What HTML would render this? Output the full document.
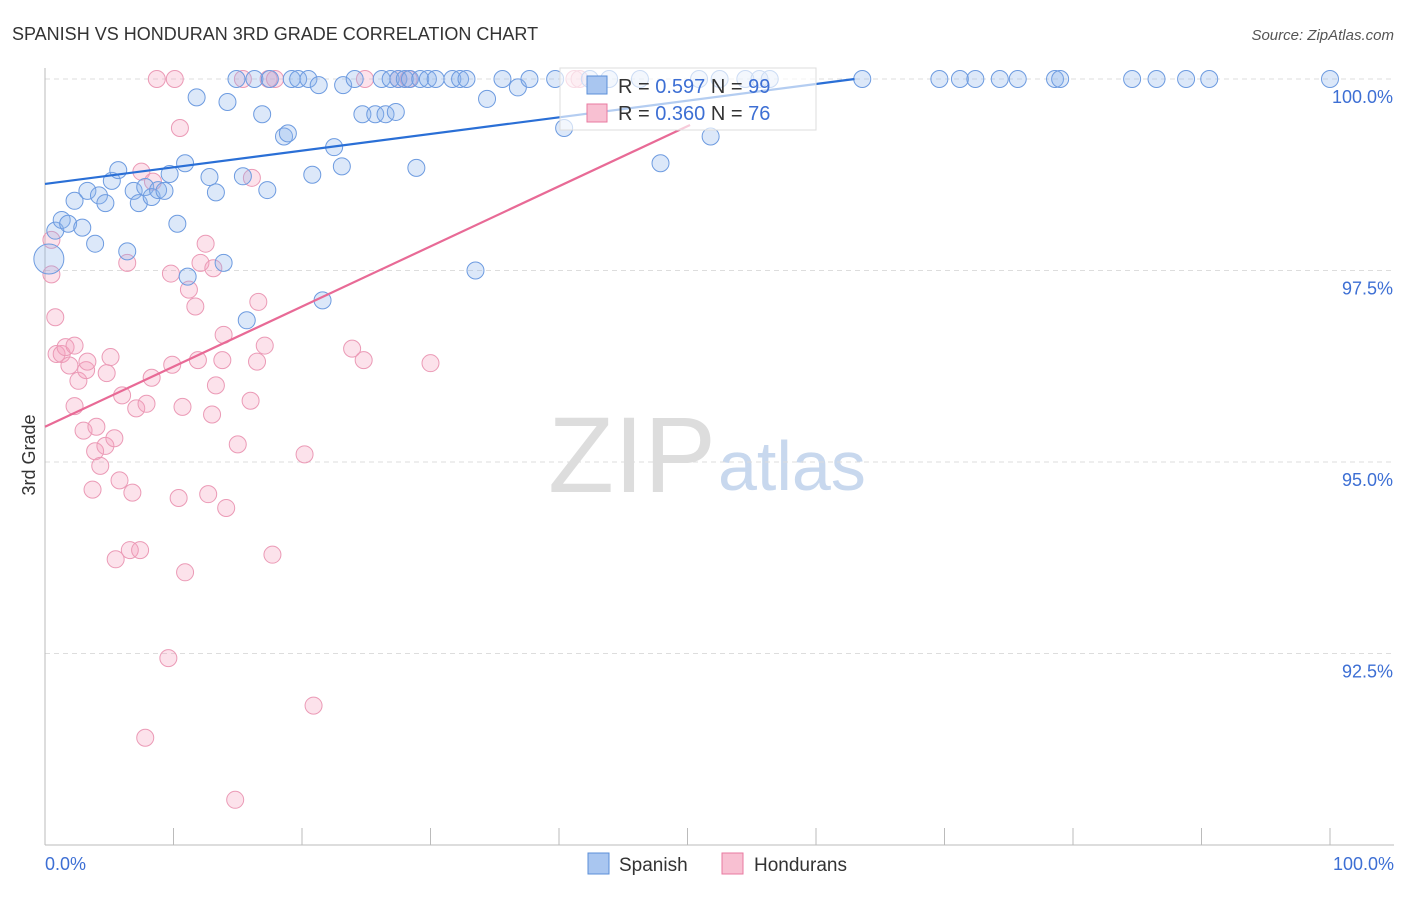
<!DOCTYPE html>
<html><head><meta charset="utf-8"><style>
body{margin:0;background:#fff;font-family:"Liberation Sans",sans-serif}
svg text{font-family:"Liberation Sans",sans-serif}
</style></head><body>
<svg id="c" width="1406" height="892">
<text x="12" y="40" font-size="18" fill="#333">SPANISH VS HONDURAN 3RD GRADE CORRELATION CHART</text>
<text x="1394" y="40" font-size="15" fill="#555" font-style="italic" text-anchor="end">Source: ZipAtlas.com</text>
<text x="716" y="492" font-size="108" fill="#ddd" text-anchor="end" font-family="Liberation Serif">ZIP</text>
<text x="718" y="490" font-size="70" fill="#c8d8ee">atlas</text>
<g id="grid"></g><g id="axes"></g><g id="pts"></g><g id="lines"></g>
<text x="35" y="455" font-size="18" fill="#333" text-anchor="middle" transform="rotate(-90 35 455)">3rd Grade</text>
<text x="45" y="870" font-size="18" fill="#3d6fd4">0.0%</text>
<text x="1394" y="870" font-size="18" fill="#3d6fd4" text-anchor="end">100.0%</text>
<g>
<rect x="560" y="68" width="256" height="62" fill="rgba(255,255,255,0.65)" stroke="#ddd"/>
<rect x="587" y="76" width="20" height="18" fill="#a9c6f0" stroke="#5b8fd8"/>
<rect x="587" y="104" width="20" height="18" fill="#f8c0d2" stroke="#e87aa0"/>
<text x="618" y="93" font-size="20" fill="#333">R = <tspan fill="#3d6fd4">0.597</tspan>   N = <tspan fill="#3d6fd4">99</tspan></text>
<text x="618" y="120" font-size="20" fill="#333">R = <tspan fill="#3d6fd4">0.360</tspan>   N = <tspan fill="#3d6fd4">76</tspan></text>
</g>
<g>
<rect x="588" y="853" width="21" height="21" fill="#a9c6f0" stroke="#5b8fd8"/>
<text x="619" y="871" font-size="19" fill="#333">Spanish</text>
<rect x="722" y="853" width="21" height="21" fill="#f8c0d2" stroke="#e87aa0"/>
<text x="754" y="871" font-size="19" fill="#333">Hondurans</text>
</g>
</svg>
<script>
const yTicks=[100,97.5,95,92.5];
const yTickLabels=["100.0%","97.5%","95.0%","92.5%"];
const blueX=[0.8,1.3,1.8,2.3,2.9,3.3,3.9,4.2,4.7,5.2,5.7,6.4,6.9,7.3,7.8,8.3,8.8,9.3,9.7,10.3,10.9,11.1,11.8,12.8,13.3,13.9,14.2,15.4,15.7,16.9,17.3,18.6,18.9,20.8,21.6,22.5,23.1,24.7,25.7,26.5,27.3,28.9,33.5,34.4,36.8,40.4,47.9,51.8,
14.9,16.3,17.5,19.2,19.7,20.5,21.3,23.2,24.1,26.2,26.9,27.5,28.0,28.4,29.2,29.8,30.4,31.7,32.3,32.8,35.6,37.7,39.7,42.4,43.9,46.3,50.9,52.5,54.5,55.6,56.4,63.6,69.6,71.2,72.4,74.3,75.7,78.6,79.0,84.6,86.5,88.8,90.6,100.0,0.3];
const blueY=[98.02,98.16,98.11,98.41,98.06,98.54,97.85,98.48,98.38,98.67,98.81,97.75,98.54,98.38,98.59,98.46,98.55,98.54,98.76,98.11,98.90,97.42,99.76,98.72,98.52,97.6,99.70,98.73,96.85,99.54,98.55,99.25,99.29,98.75,97.11,99.11,98.86,99.54,99.54,99.54,99.57,98.84,97.5,99.74,99.89,99.36,98.9,99.25,
100,100,100,100,100,100,99.92,99.92,100,100,100,100,100,100,100,100,100,100,100,100,100,100,100,100,100,100,100,100,100,100,100,100,100,100,100,100,100,100,100,100,100,100,100,100,97.65];
const pinkX=[0.5,0.5,0.8,0.9,1.3,1.6,1.9,2.3,2.6,2.3,3.0,3.2,3.3,3.7,3.9,4.0,4.3,4.7,4.8,5.1,5.4,5.5,5.8,6.0,6.4,6.6,6.8,7.1,7.4,7.5,7.8,7.9,8.3,8.4,8.7,9.6,9.8,9.9,10.1,10.4,10.5,10.7,10.9,11.2,11.7,11.9,12.1,12.5,12.7,13.0,13.1,13.3,13.8,13.9,14.1,14.8,15.0,15.4,16.0,16.1,16.5,16.6,17.1,17.7,17.4,17.9,20.2,20.9,23.9,24.8,24.9,27.5,28.3,30.0,41.2,41.6];
const pinkY=[97.9,97.45,96.89,96.41,96.41,96.5,96.26,96.52,96.06,95.73,95.41,96.2,96.31,94.64,95.14,95.46,94.95,95.21,96.16,96.37,95.31,93.73,94.76,95.87,97.6,93.85,94.6,95.7,93.85,98.79,91.4,95.76,96.1,98.66,100,92.44,97.46,96.27,100,94.53,99.36,95.72,93.56,97.25,97.03,96.33,97.6,97.85,94.58,95.62,97.53,96.0,96.33,96.66,94.4,90.59,95.23,100,95.8,98.71,96.31,97.09,96.52,93.79,100,100,95.1,91.82,96.48,96.33,100,100,100,96.29,100,100];
const blueLine=[0,98.63,63,100];
const pinkLine=[0,95.46,50.2,99.40];
const X0=45,X1=1330,Y100=79,PX=76.6;
const xs=v=>X0+(X1-X0)*v/100, ys=v=>Y100+(100-v)*PX;
const NS="http://www.w3.org/2000/svg";
function mk(t,a,p){const e=document.createElementNS(NS,t);for(const k in a)e.setAttribute(k,a[k]);document.getElementById(p).appendChild(e);return e;}
yTicks.forEach((t,i)=>{
 const l=mk('line',{x1:45,x2:1394,y1:ys(t),y2:ys(t),stroke:'#ddd','stroke-dasharray':'5,4'},'grid');
 
 
 const tx=mk('text',{x:1393,y:ys(t)+24,'font-size':18,fill:'#3d6fd4','text-anchor':'end'},'grid');
 tx.textContent=yTickLabels[i];
 
 
});
const ax=mk('line',{x1:45,x2:45,y1:68,y2:845,stroke:'#bbb'},'axes');


const bx=mk('line',{x1:45,x2:1394,y1:845,y2:845,stroke:'#bbb'},'axes');


for(let i=0;i<=10;i++){const t=mk('line',{x1:xs(i*10),x2:xs(i*10),y1:828,y2:845,stroke:'#bbb'},'axes');
 
 }
pinkX.forEach((v,i)=>{const c=mk('circle',{cx:xs(v),cy:ys(pinkY[i]),r:8.5,fill:'rgba(244,160,190,0.3)',stroke:'#eb9ab6','stroke-width':1},'pts');
 
 });
blueX.forEach((v,i)=>{const big=i===blueX.length-1;const c=mk('circle',{cx:xs(v),cy:ys(blueY[i]),r:big?15:8.5,fill:'rgba(140,180,235,0.3)',stroke:'#6d9be0','stroke-width':1},'pts');
 
 });
const bl=mk('line',{x1:xs(blueLine[0]),y1:ys(blueLine[1]),x2:xs(blueLine[2]),y2:ys(blueLine[3]),stroke:'#2a6fd6','stroke-width':2.2},'lines');


const pl=mk('line',{x1:xs(pinkLine[0]),y1:ys(pinkLine[1]),x2:xs(pinkLine[2]),y2:ys(pinkLine[3]),stroke:'#e86a96','stroke-width':2.2},'lines');


</script>
</body></html>
